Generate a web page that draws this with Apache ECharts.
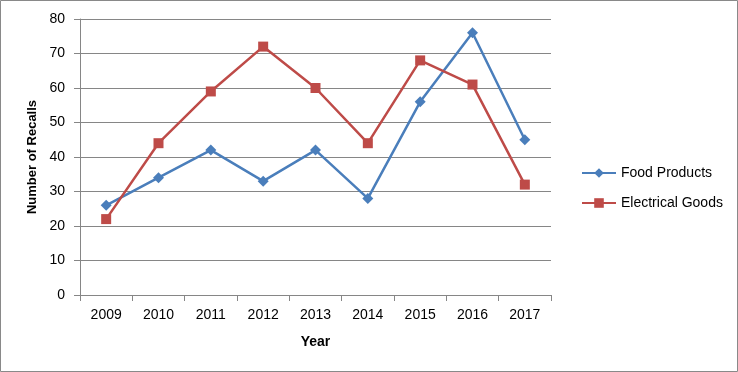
<!DOCTYPE html>
<html><head><meta charset="utf-8">
<script src="https://cdn.jsdelivr.net/npm/echarts@6/dist/echarts.min.js"></script>
<style>html,body{margin:0;padding:0;background:#fff}#c{width:738px;height:372px}</style>
</head><body><div id="c"></div>
<script>
const years = ['2009','2010','2011','2012','2013','2014','2015','2016','2017'];
const foodProducts = [26, 34, 42, 33, 42, 28, 56, 76, 45];
const electricalGoods = [22, 44, 59, 72, 60, 44, 68, 61, 32];
const yTicks = {min: 0, max: 80, interval: 10};

const font = 'Liberation Sans, Arial, sans-serif';
const chart = echarts.init(document.getElementById('c'), null, {renderer: 'canvas'});
chart.setOption({
  animation: false,
  backgroundColor: '#fff',
  graphic: [{type: 'rect', shape: {x: 0.5, y: 0.5, width: 737, height: 371}, style: {fill: 'none', stroke: '#898989', lineWidth: 1}}],
  grid: {left: 80, right: 187, top: 19, bottom: 77},
  legend: {
    orient: 'vertical', left: 576, top: 161, itemGap: 16,
    itemWidth: 34, itemHeight: 12,
    textStyle: {fontFamily: font, fontSize: 14, color: '#000'},
    data: ['Food Products', 'Electrical Goods']
  },
  xAxis: {
    type: 'category', data: years, boundaryGap: true,
    name: 'Year', nameLocation: 'middle', nameGap: 40,
    nameTextStyle: {fontFamily: font, fontSize: 14, fontWeight: 'bold', color: '#000'},
    axisLine: {lineStyle: {color: '#868686'}},
    axisTick: {show: true, length: 6, lineStyle: {color: '#868686'}},
    axisLabel: {fontFamily: font, fontSize: 14, color: '#000', margin: 13}
  },
  yAxis: {
    type: 'value', min: yTicks.min, max: yTicks.max, interval: yTicks.interval,
    name: 'Number of Recalls', nameLocation: 'middle', nameGap: 40,
    nameTextStyle: {fontFamily: font, fontSize: 13, fontWeight: 'bold', color: '#000'},
    axisLine: {show: true, lineStyle: {color: '#868686'}},
    axisTick: {show: true, length: 6, lineStyle: {color: '#868686'}},
    axisLabel: {fontFamily: font, fontSize: 14, color: '#000', margin: 15},
    splitLine: {lineStyle: {color: '#868686'}}
  },
  series: [
    {name: 'Food Products', type: 'line', data: foodProducts, color: '#4a7ebb',
     symbol: 'diamond', symbolSize: 11, lineStyle: {width: 2.5, color: '#4a7ebb'},
     itemStyle: {color: '#4a7ebb'}},
    {name: 'Electrical Goods', type: 'line', data: electricalGoods, color: '#be4b48',
     symbol: 'rect', symbolSize: 10, lineStyle: {width: 2.5, color: '#be4b48'},
     itemStyle: {color: '#be4b48'}}
  ]
});
</script></body></html>
